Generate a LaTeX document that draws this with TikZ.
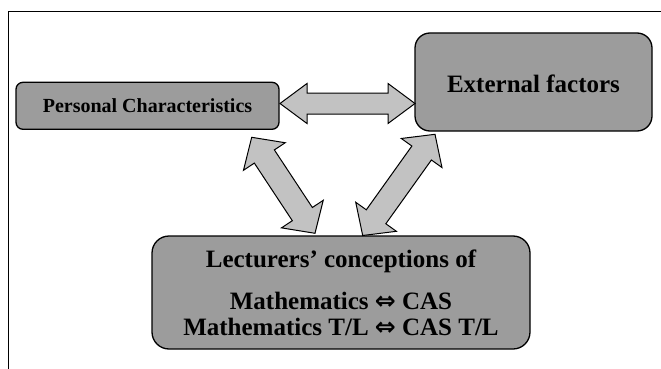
\documentclass[tikz,border=0pt]{standalone}
\usepackage{fontspec}
\setmainfont{Liberation Serif}
\newfontfamily\symfont{DejaVu Sans}
\usetikzlibrary{calc}
\definecolor{boxgray}{HTML}{9C9C9C}
\definecolor{arrowgray}{HTML}{C2C2C2}
\tikzset{
  box/.style={draw=black, line width=1.3pt, fill=boxgray, font=\bfseries, align=center, inner sep=0pt},
  arrowbody/.style={draw=black, line width=1pt, fill=arrowgray, line join=miter},
}
\newcommand\dblsym{{\symfont\fontsize{25pt}{26pt}\selectfont ⇔}}
% #1 from, #2 to, #3 head length, #4 half head width, #5 half shaft width
\newcommand\fatarrow[5]{%
  \coordinate (#1-#2-a) at ($(#1)!#3!(#2)$);
  \coordinate (#1-#2-b) at ($(#2)!#3!(#1)$);
  \draw[arrowbody] (#1) -- ($(#1-#2-a)!#4!90:(#2)$) -- ($(#1-#2-a)!#5!90:(#2)$)
    -- ($(#1-#2-b)!#5!-90:(#1)$) -- ($(#1-#2-b)!#4!-90:(#1)$) -- (#2)
    -- ($(#1-#2-b)!#4!90:(#1)$) -- ($(#1-#2-b)!#5!90:(#1)$)
    -- ($(#1-#2-a)!#5!-90:(#2)$) -- ($(#1-#2-a)!#4!-90:(#2)$) -- cycle;
}
\begin{document}
\begin{tikzpicture}[x=1pt, y=-1pt]
\useasboundingbox (0,0) rectangle (661,369);
\fill[white] (0,0) rectangle (661,369);
% outer frame (left and top edges only visible)
\draw[line width=1.6pt] (8.5,369) -- (8.5,11.5) -- (661,11.5);

\node[box, rounded corners=7pt, minimum width=263pt, minimum height=47pt,
      font=\bfseries\fontsize{20pt}{24pt}\selectfont] (pc) at (147.5,105.8) {Personal Characteristics};
\node[box, rounded corners=15pt, minimum width=237pt, minimum height=98pt, text height=22pt,
      font=\bfseries\fontsize{25pt}{30pt}\selectfont] (ef) at (533.5,82) {External factors};
\node[box, rounded corners=17pt, minimum width=378pt, minimum height=113pt,
      font=\bfseries\fontsize{25pt}{26pt}\selectfont] (lc) at (341,292.5)
  {Lecturers’ conceptions of\\[16pt]Mathematics \dblsym{} CAS\\Mathematics T/L \dblsym{} CAS T/L};

% arrow end points
\coordinate (h1) at (280,103.5);
\coordinate (h2) at (415,103.5);
\coordinate (d1a) at (251.7,137.3);
\coordinate (d1b) at (315,233.3);
\coordinate (d2a) at (435,134.3);
\coordinate (d2b) at (362.7,235.5);

\fatarrow{h1}{h2}{27pt}{20pt}{10.5pt}
\fatarrow{d1a}{d1b}{23pt}{25pt}{12pt}
\fatarrow{d2a}{d2b}{23pt}{25pt}{12pt}
\end{tikzpicture}
\end{document}
